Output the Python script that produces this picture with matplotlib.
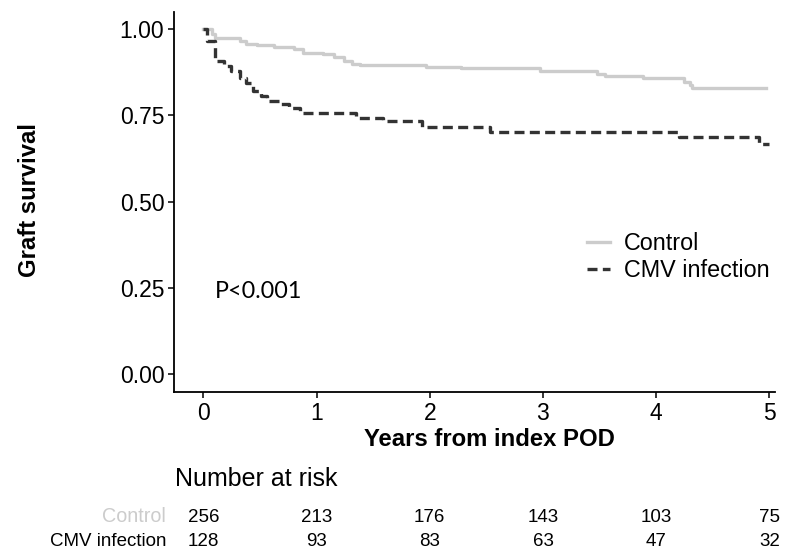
import numpy as np
import matplotlib.pyplot as plt
from matplotlib.transforms import blended_transform_factory

plt.rcParams['font.family'] = ['Liberation Sans', 'DejaVu Sans']

# step curves (years, survival)
ctrl_t = [0, 0.08, 0.10, 0.32, 0.38, 0.47, 0.62, 0.80, 0.88, 1.06, 1.15, 1.24,
          1.31, 1.38, 1.97, 2.28, 2.97, 3.48, 3.55, 3.88, 4.25, 4.30, 4.32, 4.97]
ctrl_s = [1.0, 0.985, 0.973, 0.965, 0.958, 0.953, 0.947, 0.942, 0.932, 0.927, 0.920, 0.908,
          0.900, 0.895, 0.889, 0.887, 0.878, 0.871, 0.865, 0.857, 0.847, 0.839, 0.828, 0.828]
cmv_t = [0, 0.03, 0.10, 0.18, 0.24, 0.32, 0.38, 0.44, 0.51, 0.56, 0.68, 0.76, 0.85,
         1.35, 1.40, 1.59, 1.93, 2.53, 4.20, 4.91, 5.0]
cmv_s = [1.0, 0.966, 0.908, 0.893, 0.879, 0.859, 0.845, 0.821, 0.806, 0.792, 0.782, 0.772, 0.758,
         0.743, 0.743, 0.734, 0.716, 0.703, 0.687, 0.667, 0.667]

risk_times = [0, 1, 2, 3, 4, 5]
risk_ctrl = [256, 213, 176, 143, 103, 75]
risk_cmv = [128, 93, 83, 63, 47, 32]

c_ctrl = '#cccccc'
c_cmv = '#333333'

fig = plt.figure(figsize=(7.92, 5.51), dpi=100)
ax = fig.add_axes([0.2197, 0.2886, 0.7588, 0.690])

ax.step(ctrl_t, ctrl_s, where='post', color=c_ctrl, lw=2.4, label='Control')
ax.step(cmv_t, cmv_s, where='post', color=c_cmv, lw=2.4, ls=(0, (3.0, 1.6)),
        label='CMV infection')

ax.set_xlim(-0.26, 5.05)
ax.set_ylim(-0.052, 1.05)
ax.set_xticks(risk_times)
ax.set_yticks([0, 0.25, 0.5, 0.75, 1.0])
ax.set_yticklabels(['0.00', '0.25', '0.50', '0.75', '1.00'])
ax.tick_params(labelsize=16.5, length=4, width=1.1, colors='black', pad=3)
for s in ['top', 'right']:
    ax.spines[s].set_visible(False)
for s in ['left', 'bottom']:
    ax.spines[s].set_linewidth(1.3)

fig.text(489 / 792, 1 - 446 / 551, 'Years from index POD', fontsize=17.2,
         fontweight='bold', ha='center', va='baseline')
fig.text(29.5 / 792, 1 - 200 / 551, 'Graft survival', fontsize=17.2,
         fontweight='bold', ha='center', va='center', rotation=90)

ax.legend(loc='center left', bbox_to_anchor=(0.652, 0.355), frameon=False, fontsize=16.8,
          handlelength=1.0, handletextpad=0.6, labelspacing=0.2)

ax.text(0.1, 0.24, 'P<0.001', fontsize=16.8, family=['Lato', 'DejaVu Sans'], va='center')

# number at risk table
tr = blended_transform_factory(ax.transData, fig.transFigure)
fig.text(0.221, 1 - 479 / 551, 'Number at risk', fontsize=18, va='center', ha='left')
for t, a, b in zip(risk_times, risk_ctrl, risk_cmv):
    ax.text(t, 1 - 517 / 551, str(a), transform=tr, fontsize=13.5, ha='center', va='center')
    ax.text(t, 1 - 541 / 551, str(b), transform=tr, fontsize=13.5, ha='center', va='center')
fig.text(166 / 792, 1 - 517 / 551, 'Control', color=c_ctrl, fontsize=14.2, ha='right', va='center')
fig.text(166 / 792, 1 - 541 / 551, 'CMV infection', color='black', fontsize=13.5, ha='right', va='center')

fig.savefig('out.png', dpi=100)
